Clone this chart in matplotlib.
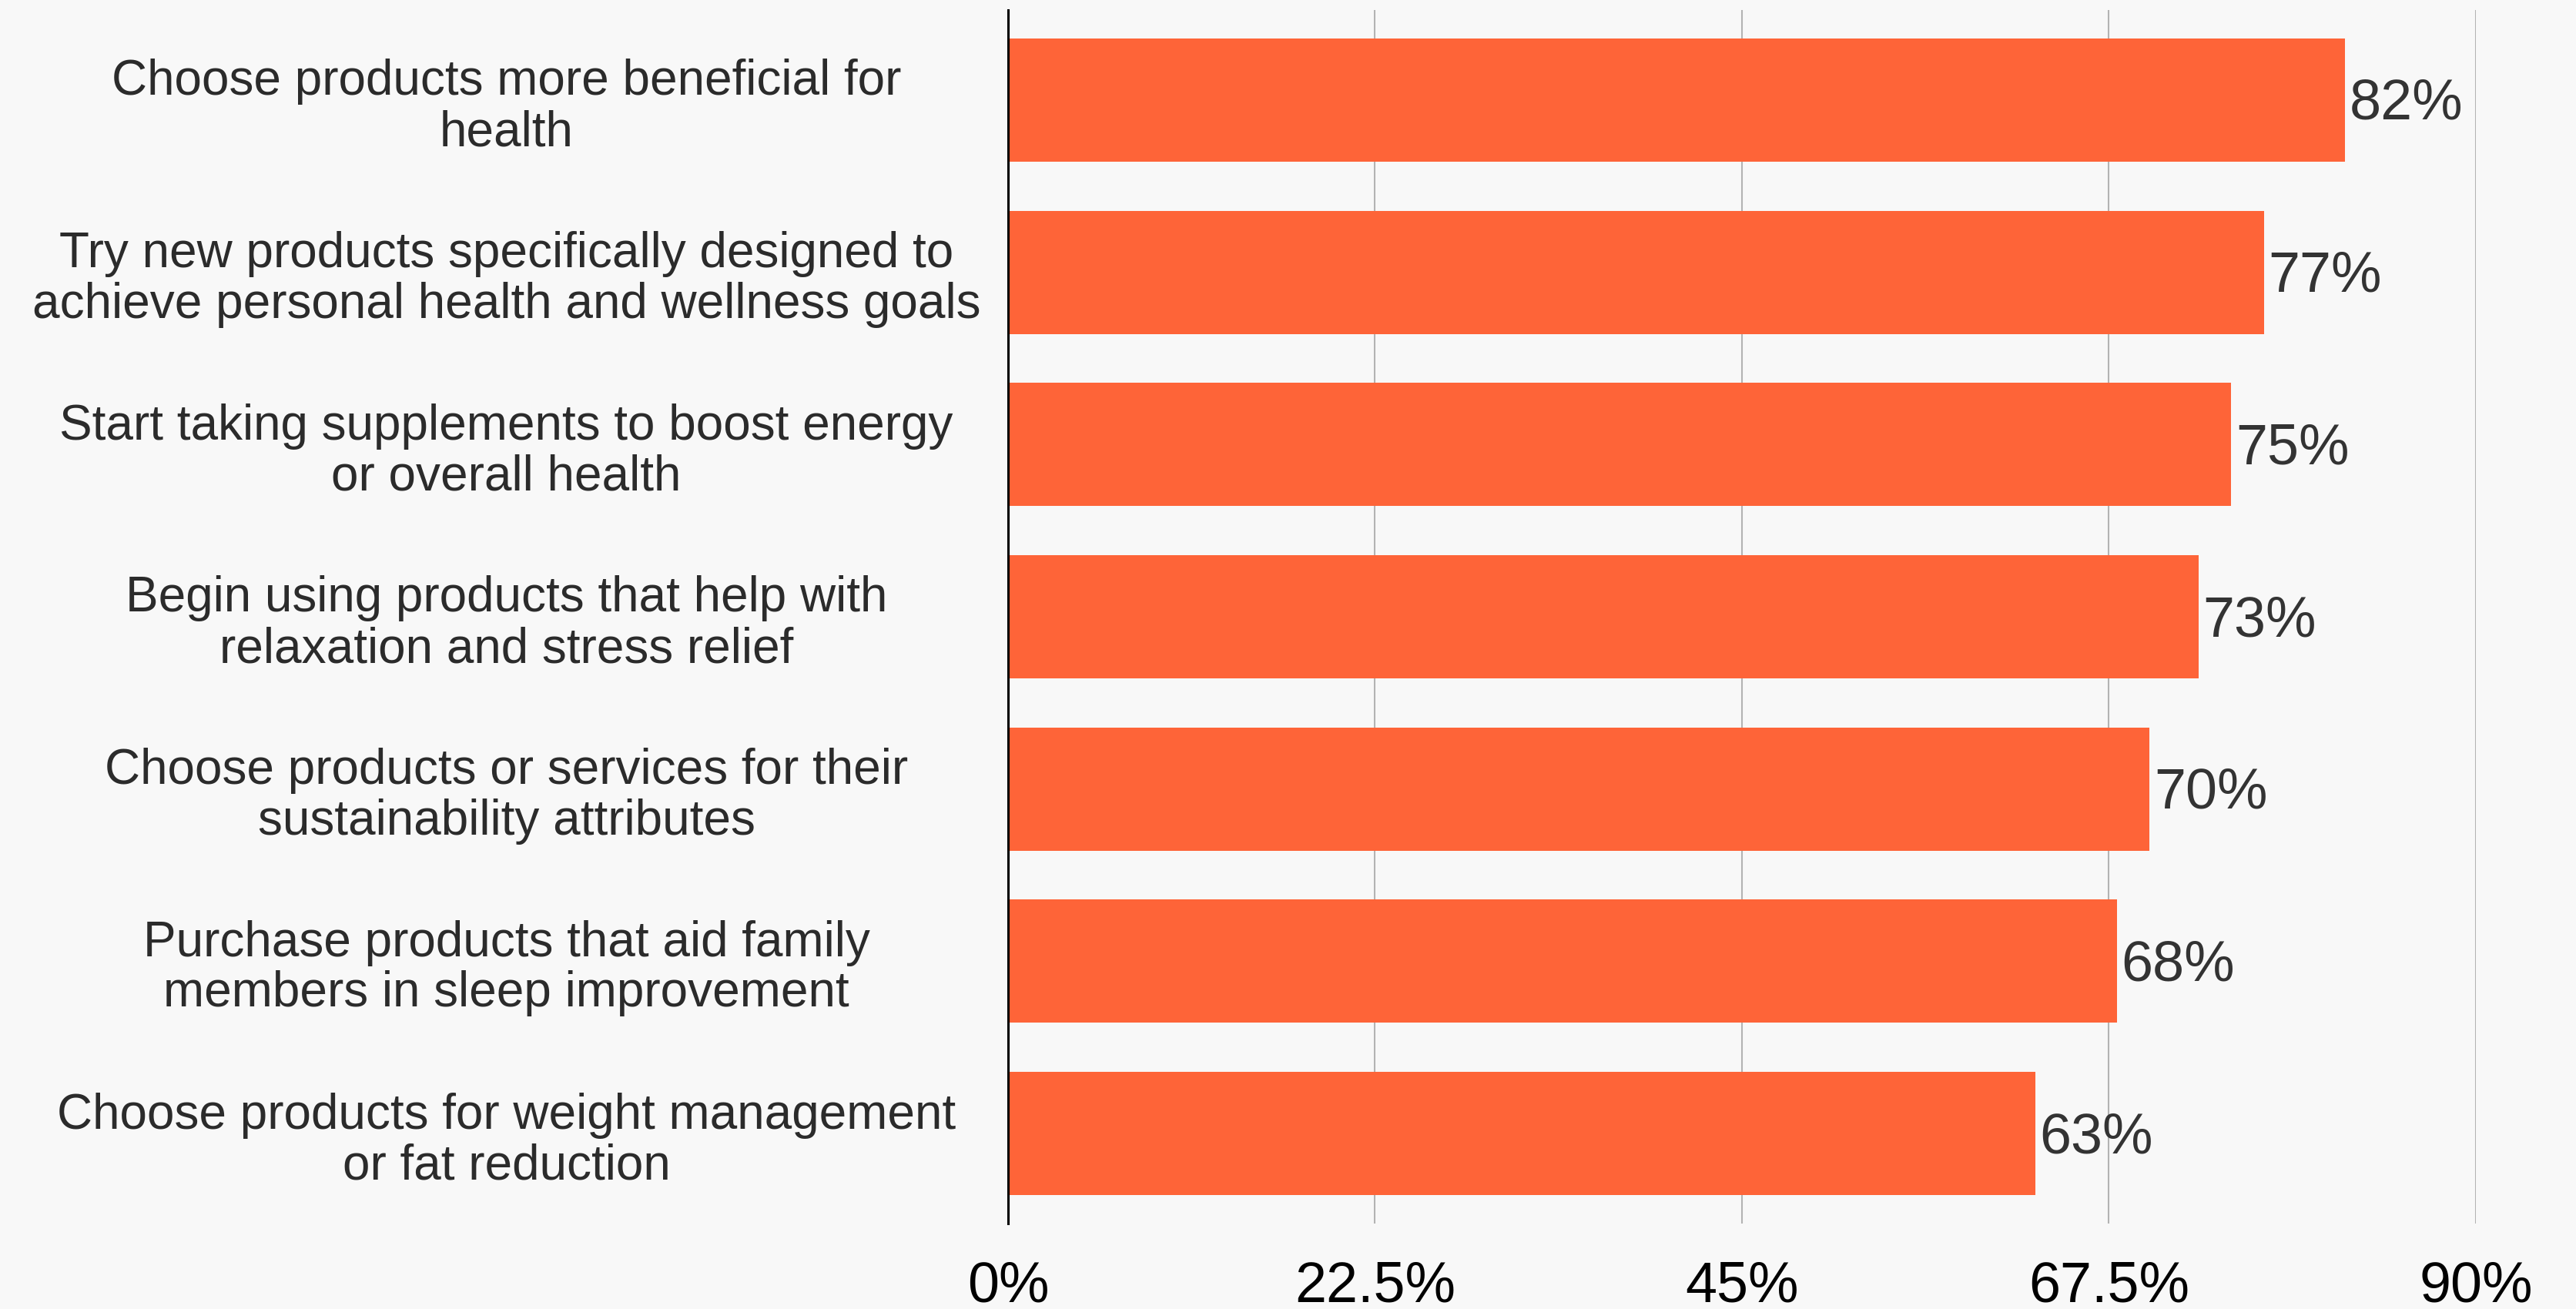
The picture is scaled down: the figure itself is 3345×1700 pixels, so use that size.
import matplotlib
matplotlib.use('Agg')
import matplotlib.pyplot as plt

plt.rcParams['font.family'] = ['Liberation Sans', 'DejaVu Sans']

# data, top to bottom
categories = [
    'Choose products more beneficial for\nhealth',
    'Try new products specifically designed to\nachieve personal health and wellness goals',
    'Start taking supplements to boost energy\nor overall health',
    'Begin using products that help with\nrelaxation and stress relief',
    'Choose products or services for their\nsustainability attributes',
    'Purchase products that aid family\nmembers in sleep improvement',
    'Choose products for weight management\nor fat reduction',
]
values = [82, 77, 75, 73, 70, 68, 63]
xticks = [0, 22.5, 45, 67.5, 90]
xtick_labels = ['0%', '22.5%', '45%', '67.5%', '90%']

bg = '#f8f8f8'
bar_color = '#fe6438'

fig = plt.figure(figsize=(33.45, 17), dpi=100, facecolor=bg)
ax = fig.add_axes([0.3913, 0.0653, 0.5698, 0.9271])
ax.set_facecolor(bg)

ypos = list(range(len(values)))
ax.barh(ypos, values, height=0.715, color=bar_color, zorder=3)

for y, v in zip(ypos, values):
    ax.annotate(f'{v}%', (v, y), xytext=(4, -4), textcoords='offset points',
                ha='left', va='center', fontsize=53, color='#333333', zorder=4)

ax.set_xlim(0, 90)
ax.set_ylim(len(values) - 0.477, -0.523)
ax.set_xticks(xticks)
ax.set_xticklabels(xtick_labels, fontsize=53, color='black')
ax.set_yticks(ypos)
ax.set_yticklabels(categories, fontsize=46, color='#2b2b2b', ha='center',
                   multialignment='center', linespacing=1.12)
ax.tick_params(axis='x', length=0, pad=34)
ax.tick_params(axis='y', length=0, pad=469)

ax.grid(axis='x', color='#b3b3b3', linewidth=1.5, zorder=1)
ax.grid(axis='y', visible=False)
for s in ['top', 'right', 'bottom']:
    ax.spines[s].set_visible(False)
ax.spines['left'].set_color('black')
ax.spines['left'].set_linewidth(2.2)
ax.spines['left'].set_zorder(5)

fig.savefig('out.png', dpi=100, facecolor=bg)
